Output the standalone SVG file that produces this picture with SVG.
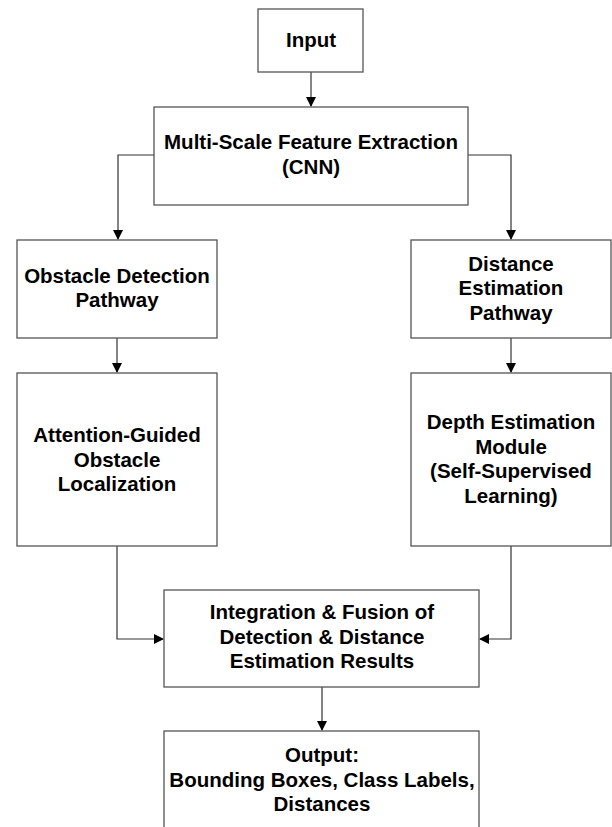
<svg xmlns="http://www.w3.org/2000/svg" width="612" height="827" viewBox="0 0 612 827">
<defs>
<marker id="ah" markerWidth="10" markerHeight="10" refX="9" refY="5" orient="auto" markerUnits="userSpaceOnUse">
<path d="M0,0 L10,5 L0,10 Z" fill="#000"/>
</marker>
<style>
.box{fill:#fff;stroke:#555;stroke-width:1.3}
.t{font-family:"Liberation Sans",Arial,sans-serif;font-weight:bold;font-size:20.5px;fill:#000;text-anchor:middle}
.c{fill:none;stroke:#333;stroke-width:1.2}
</style>
</defs>
<rect width="612" height="827" fill="#fff"/>
<g id="connectors">
<path class="c" d="M311,72 V106" marker-end="url(#ah)"/>
<path class="c" d="M154,155 H118 V239" marker-end="url(#ah)"/>
<path class="c" d="M468,155 H511 V239" marker-end="url(#ah)"/>
<path class="c" d="M117,338 V372" marker-end="url(#ah)"/>
<path class="c" d="M511,338 V372" marker-end="url(#ah)"/>
<path class="c" d="M117,546 V639 H163" marker-end="url(#ah)"/>
<path class="c" d="M511,546 V639 H480" marker-end="url(#ah)"/>
<path class="c" d="M322,687 V730" marker-end="url(#ah)"/>
</g>
<g id="input">
<rect class="box" x="258" y="9" width="105" height="63"/>
<text class="t" x="311" y="47">Input</text>
</g>
<g id="msfe">
<rect class="box" x="154" y="107" width="314" height="98"/>
<text class="t" x="311" y="149">Multi-Scale Feature Extraction</text>
<text class="t" x="311" y="174">(CNN)</text>
</g>
<g id="obstacle">
<rect class="box" x="17" y="240" width="200" height="98"/>
<text class="t" x="117" y="283">Obstacle Detection</text>
<text class="t" x="117" y="307">Pathway</text>
</g>
<g id="distance">
<rect class="box" x="411" y="240" width="200" height="98"/>
<text class="t" x="511" y="271">Distance</text>
<text class="t" x="511" y="295">Estimation</text>
<text class="t" x="511" y="320">Pathway</text>
</g>
<g id="attention">
<rect class="box" x="17" y="373" width="200" height="173"/>
<text class="t" x="117" y="442">Attention-Guided</text>
<text class="t" x="117" y="466.5">Obstacle</text>
<text class="t" x="117" y="491">Localization</text>
</g>
<g id="depth">
<rect class="box" x="411" y="373" width="200" height="173"/>
<text class="t" x="511" y="429">Depth Estimation</text>
<text class="t" x="511" y="453.5">Module</text>
<text class="t" x="511" y="478">(Self-Supervised</text>
<text class="t" x="511" y="502.5">Learning)</text>
</g>
<g id="integration">
<rect class="box" x="164" y="590" width="315" height="97"/>
<text class="t" x="322" y="619">Integration &amp; Fusion of</text>
<text class="t" x="322" y="643.5">Detection &amp; Distance</text>
<text class="t" x="322" y="668">Estimation Results</text>
</g>
<g id="output">
<rect class="box" x="164" y="731" width="315" height="110"/>
<text class="t" x="322" y="762">Output:</text>
<text class="t" x="322" y="786.5">Bounding Boxes, Class Labels,</text>
<text class="t" x="322" y="811">Distances</text>
</g>
</svg>
